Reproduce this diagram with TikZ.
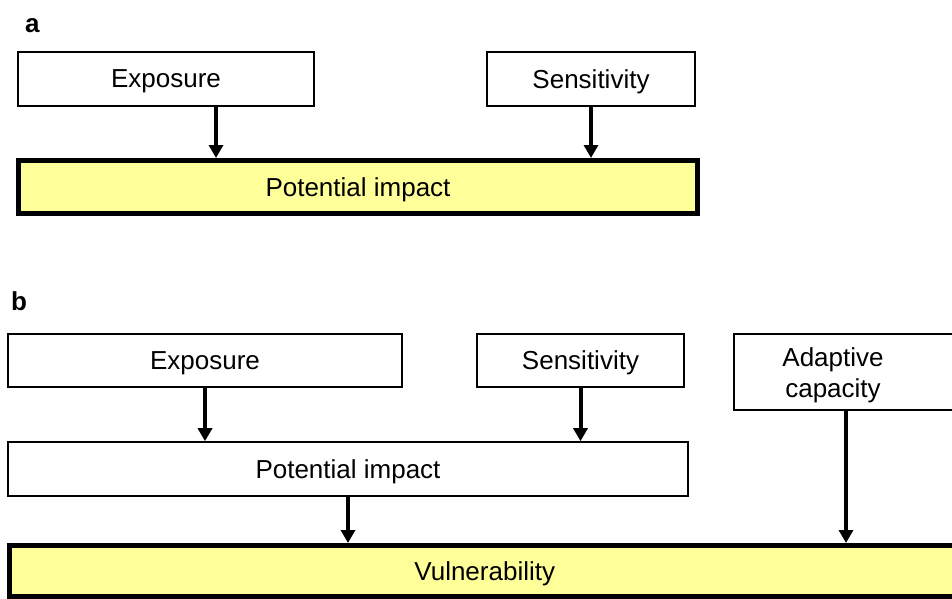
\documentclass[tikz,border=0pt]{standalone}
\usepackage{fontspec}
\setmainfont{Liberation Sans}
\usetikzlibrary{arrows.meta}
\definecolor{paleyellow}{RGB}{255,255,153}

\begin{document}
\begin{tikzpicture}[x=1pt,y=-1pt,->,>={Triangle[width=14pt,length=13pt]},line width=4pt,
    box/.style={draw,-,line width=1.6pt,fill=white,inner sep=0pt,text depth=0pt,font=\fontsize{26}{31}\selectfont},
    impact/.style={box,line width=5pt,fill=paleyellow},
    panel/.style={anchor=base west,inner sep=0pt,font=\fontsize{26}{30}\selectfont\bfseries}]
	  \useasboundingbox (0,0) rectangle (952,599);
	  % panel a
	  \node (labA) [panel] at (23,33) {a};
	  \node (expA) [box,minimum width=296pt,minimum height=54pt] at (166,79) {Exposure};
	  \node (senA) [box,minimum width=208pt,minimum height=54pt] at (591,79) {Sensitivity};
	  \node (potA) [impact,minimum width=679pt,minimum height=53pt] at (358,187) {Potential impact};
	  \draw ([xshift=50pt]expA.south) -- ([xshift=50pt]expA.south |- potA.north);
	  \draw (senA.south) -- (senA.south |- potA.north);
	  % panel b
	  \node (labB) [panel] at (9,310) {b};
	  \node (expB) [box,minimum width=394pt,minimum height=53pt] at (205,360.5) {Exposure};
	  \node (senB) [box,minimum width=207pt,minimum height=53pt] at (580.5,360.5) {Sensitivity};
	  \node (adpB) [box,text depth=,minimum width=224pt,minimum height=76pt] at (846,372)
	    {\raisebox{-4pt}[\height][\depth]{\begin{tabular}{@{}c@{}}Adaptive\\capacity\end{tabular}}\kern26pt\relax};
	  \node (potB) [box,minimum width=680pt,minimum height=54pt] at (348,469) {Potential impact};
	  \node (vulB) [impact,minimum width=950pt,minimum height=51pt] at (484.75,571) {Vulnerability};
	  \draw (expB.south) -- (expB.south |- potB.north);
	  \draw (senB.south) -- (senB.south |- potB.north);
	  \draw (potB.south) -- (potB.south |- vulB.north);
	  \draw (adpB.south) -- (adpB.south |- vulB.north);
	\end{tikzpicture}
\end{document}
